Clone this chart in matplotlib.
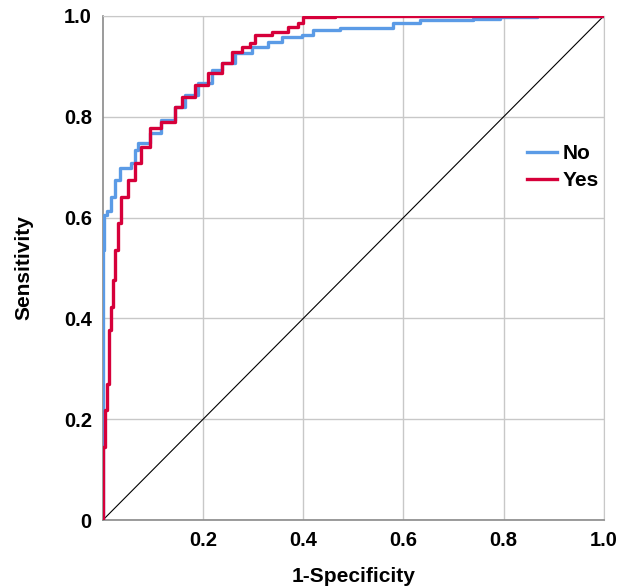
import numpy as np
import matplotlib
matplotlib.use("Agg")
import matplotlib.pyplot as plt

plt.rcParams['font.family'] = ['Liberation Sans', 'DejaVu Sans']

# ROC points: (1-specificity, sensitivity)
no_fpr = [0.0, 0.0, 0.003, 0.008, 0.017, 0.025, 0.034, 0.057, 0.064, 0.07, 0.094,
          0.117, 0.144, 0.164, 0.19, 0.217, 0.237, 0.263, 0.297, 0.33, 0.357,
          0.397, 0.42, 0.473, 0.579, 0.633, 0.739, 0.792, 0.866, 1.0]
no_tpr = [0.0, 0.536, 0.605, 0.612, 0.64, 0.675, 0.698, 0.708, 0.734, 0.748, 0.768,
          0.794, 0.82, 0.843, 0.867, 0.893, 0.907, 0.926, 0.939, 0.948, 0.958,
          0.962, 0.972, 0.976, 0.986, 0.992, 0.994, 0.998, 1.0, 1.0]

yes_fpr = [0.0, 0.0, 0.005, 0.009, 0.012, 0.016, 0.02, 0.025, 0.03, 0.037, 0.05,
           0.064, 0.077, 0.094, 0.117, 0.144, 0.157, 0.184, 0.21, 0.237, 0.257,
           0.277, 0.293, 0.303, 0.337, 0.369, 0.389, 0.399, 0.463, 1.0]
yes_tpr = [0.0, 0.145, 0.218, 0.27, 0.377, 0.423, 0.476, 0.536, 0.589, 0.641, 0.675,
           0.708, 0.74, 0.778, 0.79, 0.82, 0.839, 0.863, 0.887, 0.907, 0.929,
           0.939, 0.946, 0.962, 0.968, 0.978, 0.986, 0.998, 1.0, 1.0]

ticks = [0.0, 0.2, 0.4, 0.6, 0.8, 1.0]
tick_labels = ['0', '0.2', '0.4', '0.6', '0.8', '1.0']

fig = plt.figure(figsize=(6.35, 5.87), dpi=100)
ax = fig.add_axes([0.162, 0.114, 0.789, 0.859])

ax.plot([0, 1], [0, 1], color='black', lw=0.8, zorder=2)
ax.plot(no_fpr, no_tpr, drawstyle='steps-post', color='#5B9BE6', lw=2.4, label='No', zorder=3)
ax.plot(yes_fpr, yes_tpr, drawstyle='steps-post', color='#D6003A', lw=2.4, label='Yes', zorder=4)

ax.set_xlim(0, 1)
ax.set_ylim(0, 1)
ax.set_xticks(ticks[1:])
ax.set_xticklabels(tick_labels[1:])
ax.set_yticks(ticks)
ax.set_yticklabels(tick_labels)
ax.grid(True, color='#c8c8c8', lw=1.0)
ax.set_axisbelow(True)
ax.tick_params(length=0, labelsize=14.5, pad=8)
for lab in ax.get_xticklabels() + ax.get_yticklabels():
    lab.set_fontweight('bold')

for side in ['top', 'right']:
    ax.spines[side].set_color('#c8c8c8')
for side in ['left', 'bottom']:
    ax.spines[side].set_color('#8a8a8a')
    ax.spines[side].set_linewidth(1.2)

ax.set_xlabel('1-Specificity', fontsize=15, fontweight='bold', labelpad=12)
ax.set_ylabel('Sensitivity', fontsize=15, fontweight='bold', labelpad=22)

ax.legend(loc='center left', bbox_to_anchor=(0.81, 0.70), frameon=False,
          prop={'size': 15, 'weight': 'bold'}, handlelength=1.4,
          handletextpad=0.3, labelspacing=0.4)

fig.savefig('out.png', dpi=100)
